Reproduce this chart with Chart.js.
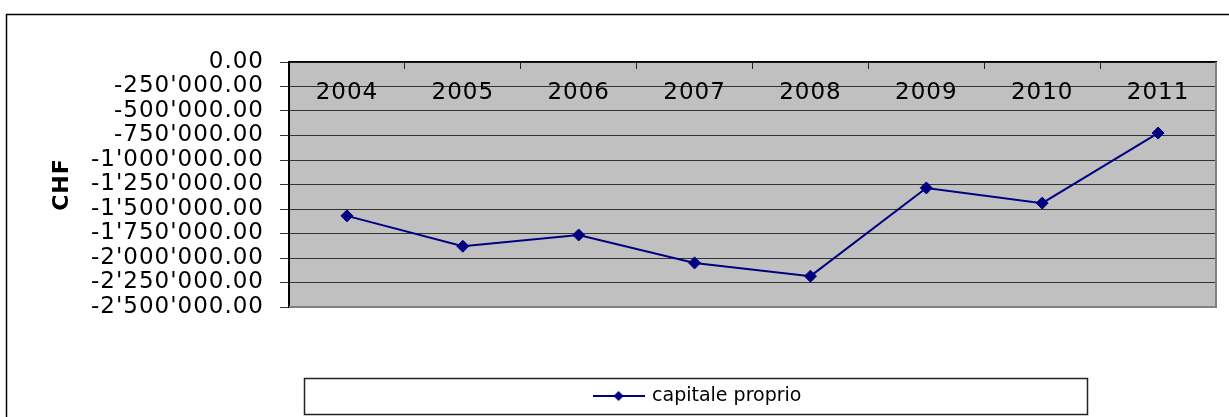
<!DOCTYPE html>
<html>
<head>
<meta charset="utf-8">
<script src="https://cdn.jsdelivr.net/npm/chart.js@4/dist/chart.umd.min.js"></script>
<style>
  html, body { margin: 0; padding: 0; background: #fff; }
  canvas { display: block; }
</style>
</head>
<body>
<canvas id="c" width="1229" height="417"></canvas>
<script>
// ---- data ----
const categories = ['2004', '2005', '2006', '2007', '2008', '2009', '2010', '2011'];
const capitaleProprio = [-1570000, -1880000, -1765000, -2050000, -2185000, -1285000, -1440000, -725000];
const seriesLabel = 'capitale proprio';
const yAxisTitle = 'CHF';
const yMin = -2500000;
const yMax = 0;
const yStep = 250000;

// ---- helpers ----
function fmtCHF(v) {
  const neg = v < 0;
  const parts = Math.abs(v).toFixed(2).split('.');
  const intPart = parts[0].replace(/\B(?=(\d{3})+(?!\d))/g, "'");
  return (neg ? '-' : '') + intPart + '.' + parts[1];
}

// legend icon: line with diamond
const icon = document.createElement('canvas');
icon.width = 52; icon.height = 14;
(function () {
  const g = icon.getContext('2d');
  g.strokeStyle = '#000080';
  g.lineWidth = 2;
  g.beginPath(); g.moveTo(0, 7); g.lineTo(52, 7); g.stroke();
  g.fillStyle = '#000080';
  g.beginPath(); g.moveTo(26, 2); g.lineTo(31, 7); g.lineTo(26, 12); g.lineTo(21, 7); g.closePath(); g.fill();
})();

const decor = {
  id: 'decor',
  beforeDraw(chart) {
    const ctx = chart.ctx;
    const a = chart.chartArea;
    ctx.save();
    ctx.fillStyle = '#ffffff';
    ctx.fillRect(0, 0, chart.width, chart.height);
    // outer frame
    ctx.strokeStyle = '#000000';
    ctx.lineWidth = 1.5;
    ctx.beginPath();
    ctx.moveTo(6.5, chart.height + 2);
    ctx.lineTo(6.5, 14.5);
    ctx.lineTo(chart.width + 2, 14.5);
    ctx.stroke();
    // plot background
    ctx.fillStyle = '#c0c0c0';
    ctx.fillRect(a.left, a.top, a.right - a.left, a.bottom - a.top);
    // legend frame
    ctx.fillStyle = '#ffffff';
    ctx.fillRect(304, 378, 783, 36);
    ctx.strokeStyle = '#222222';
    ctx.lineWidth = 1.5;
    ctx.strokeRect(304.5, 378.5, 783, 36);
    ctx.restore();
    // slightly wider axis lettering
    if ('letterSpacing' in ctx) ctx.letterSpacing = '1px';
    // position legend item; legend text without extra spacing
    const lg = chart.legend;
    if (lg) {
      const w = lg.right - lg.left;
      lg.left = 698 - w / 2;
      lg.right = lg.left + w;
      if (!lg._plainWrapped) {
        const orig = lg.draw.bind(lg);
        lg.draw = function (area) {
          const c = chart.ctx;
          const prev = c.letterSpacing;
          if ('letterSpacing' in c) c.letterSpacing = '0px';
          orig(area);
          if ('letterSpacing' in c) c.letterSpacing = prev;
        };
        lg._plainWrapped = true;
      }
    }
  },
  afterDatasetsDraw(chart) {
    const ctx = chart.ctx;
    const a = chart.chartArea;
    ctx.save();
    ctx.strokeStyle = '#808080';
    ctx.lineWidth = 2;
    ctx.beginPath();
    ctx.moveTo(a.right, a.top);
    ctx.lineTo(a.right, a.bottom);
    ctx.lineTo(a.left, a.bottom);
    ctx.stroke();
    ctx.restore();
  }
};

new Chart(document.getElementById('c'), {
  type: 'line',
  data: {
    labels: categories,
    datasets: [{
      label: seriesLabel,
      data: capitaleProprio,
      borderColor: '#000080',
      backgroundColor: '#000080',
      borderWidth: 2,
      pointStyle: 'rectRot',
      pointRadius: 6,
      pointBorderWidth: 1,
      pointBackgroundColor: '#000080',
      pointBorderColor: '#000080',
      tension: 0
    }]
  },
  options: {
    responsive: false,
    animation: false,
    layout: { padding: { left: 0, right: 13, top: 42, bottom: 1.5 } },
    plugins: {
      tooltip: { enabled: false },
      legend: {
        display: true,
        position: 'bottom',
        align: 'center',
        labels: {
          usePointStyle: true,
          pointStyle: icon,
          pointStyleWidth: 48,
          padding: 79.5,
          color: '#000000',
          font: { family: 'DejaVu Sans', size: 19 }
        }
      }
    },
    scales: {
      x: {
        type: 'category',
        position: 'top',
        offset: true,
        afterFit(scale) { scale.height = 20; },
        grid: {
          offset: true,
          drawOnChartArea: false,
          drawTicks: true,
          tickLength: -7,
          color: '#222222',
          lineWidth: 1
        },
        border: { display: true, color: '#000000', width: 1.5 },
        ticks: {
          color: '#000000',
          mirror: true,
          padding: 17.5,
          maxRotation: 0,
          autoSkip: false,
          font: { family: 'DejaVu Sans', size: 23 }
        }
      },
      y: {
        min: yMin,
        max: yMax,
        afterFit(scale) { scale.width = 289; },
        ticks: {
          stepSize: yStep,
          autoSkip: false,
          color: '#000000',
          padding: 16,
          font: { family: 'DejaVu Sans', size: 23 },
          callback: (v) => fmtCHF(v)
        },
        grid: {
          color: '#333333',
          lineWidth: 1,
          tickLength: 9
        },
        border: { display: true, color: '#000000', width: 2 },
        title: {
          display: true,
          text: yAxisTitle,
          color: '#000000',
          padding: { top: 49, bottom: 0 },
          font: { family: 'DejaVu Sans', size: 22, weight: 'bold' }
        }
      }
    }
  },
  plugins: [decor]
});
</script>
</body>
</html>
